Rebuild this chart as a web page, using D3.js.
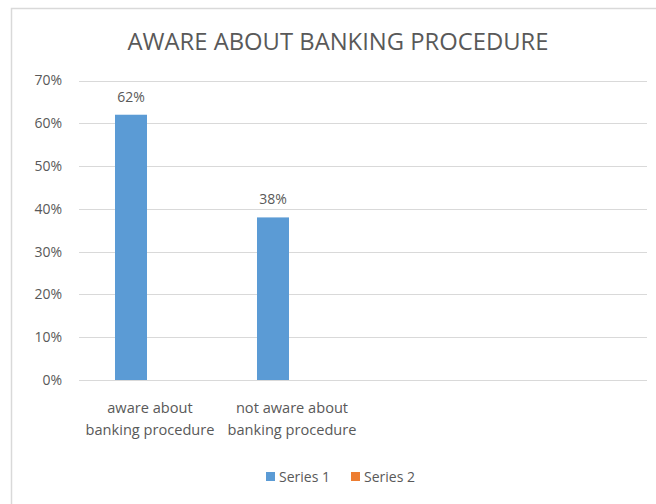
<!DOCTYPE html>
<html>
<head>
<meta charset="utf-8">
<script src="https://cdn.jsdelivr.net/npm/d3@7"></script>
<style>
  html, body { margin: 0; padding: 0; background: #fff; }
  svg { display: block; }
  text { font-family: "Open Sans", "Noto Sans", sans-serif; fill: #595959; }
</style>
</head>
<body>
<script>
// Chart data
const title = "AWARE ABOUT BANKING PROCEDURE";
const categories = ["aware about banking procedure", "not aware about banking procedure", "", ""];
const seriesNames = ["Series 1", "Series 2"];
const series1 = [0.62, 0.38, null, null];
const series2 = [null, null, null, null];
const yTicks = [0, 0.1, 0.2, 0.3, 0.4, 0.5, 0.6, 0.7];
const colors = ["#5b9bd5", "#ed7d31"];

const W = 656, H = 504;
const svg = d3.select("body").append("svg").attr("width", W).attr("height", H);

// chart frame (extends past the right and bottom edges)
svg.append("rect")
  .attr("x", 11.5).attr("y", 8.5)
  .attr("width", W + 20).attr("height", H + 20)
  .attr("fill", "#fff").attr("stroke", "#d9d9d9").attr("stroke-width", 1.5);

const plot = { left: 79, right: 647, top: 80.5, bottom: 380 };

const x0 = d3.scaleBand().domain(d3.range(categories.length)).range([plot.left, plot.right]).padding(0);
const groupW = x0.bandwidth() * 0.493;
const x1 = d3.scaleBand().domain(seriesNames).range([0, groupW]).paddingInner(0.158).paddingOuter(0);
const y = d3.scaleLinear().domain([0, 0.7]).range([plot.bottom, plot.top]);

// gridlines
svg.append("g")
  .selectAll("line").data(yTicks).join("line")
  .attr("x1", plot.left).attr("x2", plot.right)
  .attr("y1", d => Math.round(y(d)) + 0.5).attr("y2", d => Math.round(y(d)) + 0.5)
  .attr("stroke", "#d9d9d9").attr("stroke-width", 1.2);

// y axis labels
const yAxis = d3.axisLeft(y).tickValues(yTicks).tickFormat(d3.format(".0%")).tickSize(0).tickPadding(0);
const gy = svg.append("g").attr("transform", `translate(${plot.left - 17},0)`).call(yAxis);
gy.select(".domain").remove();
gy.selectAll("text").attr("font-size", 14).style("font-family", '"Open Sans", sans-serif').attr("fill", "#595959");

// bars
const rows = categories.map((c, i) => ({ i, values: [series1[i], series2[i]] }));
const groups = svg.append("g").selectAll("g").data(rows).join("g")
  .attr("transform", d => `translate(${x0(d.i) + (x0.bandwidth() - groupW) / 2},0)`);

groups.selectAll("rect")
  .data(d => d.values.map((v, k) => ({ v, k })).filter(e => e.v != null))
  .join("rect")
  .attr("x", e => x1(seriesNames[e.k]))
  .attr("width", x1.bandwidth())
  .attr("y", e => y(e.v))
  .attr("height", e => y(0) - y(e.v))
  .attr("fill", e => colors[e.k]);

// value labels
groups.selectAll("text.val")
  .data(d => d.values.map((v, k) => ({ v, k })).filter(e => e.v != null))
  .join("text").attr("class", "val")
  .attr("x", e => x1(seriesNames[e.k]) + x1.bandwidth() / 2)
  .attr("y", e => y(e.v) - 13)
  .attr("text-anchor", "middle")
  .attr("font-size", 14)
  .text(e => d3.format(".0%")(e.v));

// category labels, wrapped onto two lines
const wrapLines = {
  "aware about banking procedure": ["aware about", "banking procedure"],
  "not aware about banking procedure": ["not aware about", "banking procedure"]
};
const cat = svg.append("g").selectAll("text").data(categories.map((c, i) => ({ c, i }))).join("text")
  .attr("text-anchor", "middle")
  .attr("font-size", 14.6);
cat.each(function(d) {
  const lines = wrapLines[d.c] || (d.c ? [d.c] : []);
  d3.select(this).selectAll("tspan").data(lines).join("tspan")
    .attr("x", x0(d.i) + x0.bandwidth() / 2)
    .attr("y", (l, j) => 413 + j * 22)
    .text(l => l);
});

// title
svg.append("text")
  .attr("x", 338).attr("y", 50)
  .attr("text-anchor", "middle")
  .attr("font-size", 23.8)
  .text(title);

// legend
const legend = svg.append("g").attr("transform", "translate(266,472)");
const items = legend.selectAll("g").data(seriesNames).join("g")
  .attr("transform", (d, i) => `translate(${i * 85},0)`);
items.append("rect").attr("width", 9).attr("height", 9).attr("fill", (d, i) => colors[i]);
items.append("text").attr("x", 13).attr("y", 9.5).attr("font-size", 14).text(d => d);
</script>
</body>
</html>
